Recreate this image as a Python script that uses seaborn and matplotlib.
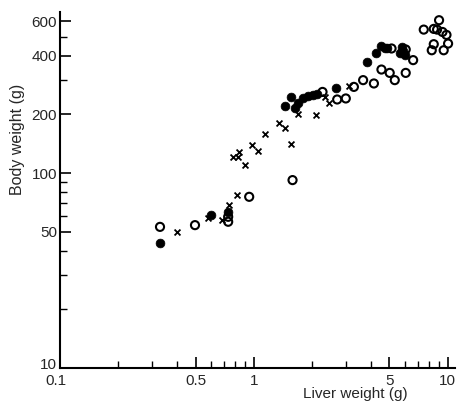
import matplotlib
matplotlib.use("Agg")
import matplotlib.pyplot as plt
import matplotlib.ticker as mticker
import matplotlib.transforms as mtransforms
import seaborn as sns
import pandas as pd

# Filled circles
filled_liver = [0.328, 0.603, 0.737, 1.44, 1.546, 1.627, 1.692, 1.795, 1.905, 2.022, 2.105,
                2.647, 3.837, 4.255, 4.55, 4.73, 4.87, 5.84, 5.88, 5.66, 6.0]
filled_body = [43.9, 60.9, 63.3, 220.6, 246, 217, 227.7, 241.6, 248.1, 251.2, 254.2,
               271.9, 372, 411, 448, 441, 436, 444, 424, 414, 403]

# Open circles
open_liver = [0.328, 0.497, 0.737, 0.737, 0.946, 1.583, 2.26, 2.69, 2.98, 3.28, 3.66, 4.16,
              4.55, 5.02, 5.33, 6.07, 6.63, 5.13, 6.07, 7.52, 8.47, 8.81, 9.02, 9.39, 9.85,
              10.04, 8.47, 8.27, 9.53]
open_body = [53.0, 54.1, 59.7, 56.3, 75.6, 92.1, 261, 238.7, 241.6, 277, 300, 288.4,
             340, 326.8, 300, 326.8, 380, 436, 431, 545, 549.6, 545, 609, 530, 512,
             462, 458.7, 427, 427]

# Crosses
cross_liver = [0.399, 0.581, 0.682, 0.746, 0.814, 0.776, 0.830, 0.839, 0.899, 0.973, 1.052,
               1.144, 1.35, 1.445, 1.546, 1.692, 2.087, 2.32, 2.445, 3.10]
cross_body = [50.0, 59.0, 57.4, 68.5, 77.1, 120.4, 120.4, 128.6, 110, 139.2, 130.1,
              158.5, 179.8, 169.5, 140.8, 200.7, 198.3, 246, 229.4, 279.4]

x_ticks = [0.1, 0.5, 1, 5, 10]
x_ticklabels = ["0.1", "0.5", "1", "5", "10"]
y_ticks = [10, 50, 100, 200, 400, 600]
y_ticklabels = ["10", "50", "100", "200", "400", "600"]

sns.set_theme(style="white")
plt.rcParams['font.family'] = ['Liberation Sans', 'DejaVu Sans']

fig = plt.figure(figsize=(4.65, 4.04), dpi=100)
ax = fig.add_axes([0.129, 0.089, 0.849, 0.881])

df_f = pd.DataFrame({"liver": filled_liver, "body": filled_body})
df_o = pd.DataFrame({"liver": open_liver, "body": open_body})
df_x = pd.DataFrame({"liver": cross_liver, "body": cross_body})

sns.scatterplot(data=df_o, x="liver", y="body", marker="o", s=34, ax=ax,
                facecolor="none", edgecolor="black", linewidth=1.5)
ax.collections[-1].set_facecolor("none")
ax.collections[-1].set_edgecolor("black")
sns.scatterplot(data=df_f, x="liver", y="body", marker="o", s=40, ax=ax,
                color="black", edgecolor="black", linewidth=0.5)
sns.scatterplot(data=df_x, x="liver", y="body", marker="x", s=18, ax=ax,
                color="black", linewidth=1.3)

ax.set_xscale("log")
ax.set_yscale("log")
ax.set_xlim(0.1, 10.87)
ax.set_ylim(10, 670)

ax.xaxis.set_major_locator(mticker.FixedLocator(x_ticks))
ax.xaxis.set_major_formatter(mticker.FixedFormatter(x_ticklabels))
ax.yaxis.set_major_locator(mticker.FixedLocator(y_ticks))
ax.yaxis.set_major_formatter(mticker.FixedFormatter(y_ticklabels))
ax.xaxis.set_minor_locator(mticker.LogLocator(base=10, subs=range(1, 10), numticks=20))
ax.yaxis.set_minor_locator(mticker.LogLocator(base=10, subs=range(1, 10), numticks=20))
ax.xaxis.set_minor_formatter(mticker.NullFormatter())
ax.yaxis.set_minor_formatter(mticker.NullFormatter())

ax.tick_params(which="major", direction="in", length=8, width=1.2, color="black",
               labelsize=11, pad=2)
ax.tick_params(axis="x", which="major", pad=4)
ax.tick_params(which="minor", direction="in", length=5, width=1.0, color="black")
ax.tick_params(axis="x", bottom=True, top=False, which="both")
ax.tick_params(axis="y", left=True, right=False, which="both")

for side in ["top", "right"]:
    ax.spines[side].set_visible(False)
for side in ["left", "bottom"]:
    ax.spines[side].set_color("black")
    ax.spines[side].set_linewidth(1.5)

ax.set_xlabel("")
ax.set_ylabel("")
fig.text(0.765, (404 - 387) / 404, "Liver weight (g)", fontsize=11, ha="center", va="top")
fig.text(0.022, 0.655, "Body weight (g)", fontsize=11.5, ha="left", va="center", rotation=90)

# nudge the lowest y label ("10") up and the first x label ("0.1") left to avoid collision
fig.canvas.draw()
ylab0 = ax.yaxis.get_majorticklabels()[0]
ylab0.set_transform(ylab0.get_transform() + mtransforms.ScaledTranslation(0, 3 / 72, fig.dpi_scale_trans))
xlab0 = ax.xaxis.get_majorticklabels()[0]
xlab0.set_transform(xlab0.get_transform() + mtransforms.ScaledTranslation(-3 / 72, 0, fig.dpi_scale_trans))

fig.savefig("out.png", dpi=100, facecolor="white")
